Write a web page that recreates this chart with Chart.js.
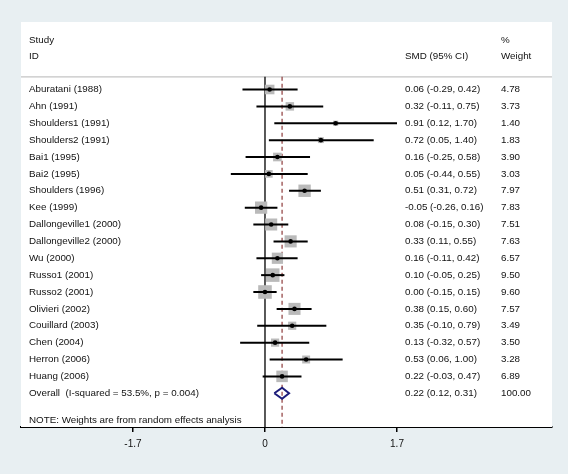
<!DOCTYPE html>
<html>
<head>
<meta charset="utf-8">
<script src="https://cdn.jsdelivr.net/npm/chart.js@4.4.1/dist/chart.umd.min.js"></script>
<style>
  html, body { margin: 0; padding: 0; background: #e8eff2; }
  #wrap { width: 568px; height: 474px; }
</style>
</head>
<body>
<div id="wrap"><canvas id="forest" width="568" height="474"></canvas></div>
<script>
// study data
const studies = ['Aburatani (1988)', 'Ahn (1991)', 'Shoulders1 (1991)', 'Shoulders2 (1991)',
  'Bai1 (1995)', 'Bai2 (1995)', 'Shoulders (1996)', 'Kee (1999)', 'Dallongeville1 (2000)',
  'Dallongeville2 (2000)', 'Wu (2000)', 'Russo1 (2001)', 'Russo2 (2001)', 'Olivieri (2002)',
  'Couillard (2003)', 'Chen (2004)', 'Herron (2006)', 'Huang (2006)'];
const smd = [0.06, 0.32, 0.91, 0.72, 0.16, 0.05, 0.51, -0.05, 0.08, 0.33, 0.16, 0.10, 0.00, 0.38, 0.35, 0.13, 0.53, 0.22];
const lower = [-0.29, -0.11, 0.12, 0.05, -0.25, -0.44, 0.31, -0.26, -0.15, 0.11, -0.11, -0.05, -0.15, 0.15, -0.10, -0.32, 0.06, -0.03];
const upper = [0.42, 0.75, 1.70, 1.40, 0.58, 0.55, 0.72, 0.16, 0.30, 0.55, 0.42, 0.25, 0.15, 0.60, 0.79, 0.57, 1.00, 0.47];
const weights = [4.78, 3.73, 1.40, 1.83, 3.90, 3.03, 7.97, 7.83, 7.51, 7.63, 6.57, 9.50, 9.60, 7.57, 3.49, 3.50, 3.28, 6.89];
const overall = [0.22, 0.12, 0.31];   // estimate, lower, upper
const overallWeight = 100.00;
const overallLabel = 'Overall  (I-squared = 53.5%, p = 0.004)';
const noteText = 'NOTE: Weights are from random effects analysis';
const xTicks = [-1.7, 0, 1.7];

const FONT = '9.8px "Liberation Sans", Arial, sans-serif';
const TXT = '#111';
const nRows = studies.length;
const fmt = (v) => v.toFixed(2);

const datasets = [];

// reference lines (null line and overall estimate)
datasets.push({
  data: [{x: 0, y: -0.75}, {x: 0, y: 20}],
  showLine: true, pointRadius: 0, borderColor: '#222', borderWidth: 1.5, order: 6
});
datasets.push({
  data: [{x: overall[0], y: -0.75}, {x: overall[0], y: 20}],
  showLine: true, pointRadius: 0, borderColor: '#8e3b3b', borderWidth: 1.2,
  borderDash: [4, 3], order: 5
});

// weight boxes
datasets.push({
  data: smd.map((v, i) => ({x: v, y: i})),
  pointStyle: 'rect',
  pointRadius: weights.map(w => 3.1 * Math.sqrt(w)),
  backgroundColor: '#bababa', borderWidth: 0, order: 4
});

// confidence intervals
studies.forEach((s, i) => {
  datasets.push({
    data: [{x: lower[i], y: i}, {x: upper[i], y: i}],
    showLine: true, pointRadius: 0, borderColor: '#000', borderWidth: 2, order: 3
  });
});

// point estimates
datasets.push({
  data: smd.map((v, i) => ({x: v, y: i})),
  pointRadius: 2.3, backgroundColor: '#000', borderWidth: 0, order: 2
});

// overall diamond
const oy = nRows;
datasets.push({
  data: [{x: overall[1], y: oy}, {x: overall[0], y: oy - 0.33}, {x: overall[2], y: oy},
         {x: overall[0], y: oy + 0.33}, {x: overall[1], y: oy}],
  showLine: true, pointRadius: 0, borderColor: '#1c1c7a', borderWidth: 2, order: 1
});

const textPlugin = {
  id: 'forestText',
  beforeDatasetsDraw(chart) {
    const {ctx, chartArea: a, scales: {y}} = chart;
    ctx.save();
    ctx.fillStyle = '#fff';
    ctx.fillRect(a.left, a.top, a.right - a.left, a.bottom - a.top);
    // header separator
    ctx.strokeStyle = '#c4c4c4';
    ctx.lineWidth = 1.2;
    ctx.beginPath();
    ctx.moveTo(a.left, y.getPixelForValue(-0.75));
    ctx.lineTo(a.right, y.getPixelForValue(-0.75));
    ctx.stroke();
    ctx.restore();
  },
  afterDatasetsDraw(chart) {
    const {ctx, chartArea: a, scales: {y}} = chart;
    const xl = a.left + 8, xs = a.right - 147, xw = a.right - 51;
    ctx.save();
    ctx.font = FONT;
    ctx.fillStyle = TXT;
    ctx.textBaseline = 'middle';
    ctx.textAlign = 'left';
    ctx.fillText('Study', xl, y.getPixelForValue(-2.9));
    ctx.fillText('ID', xl, y.getPixelForValue(-1.95));
    ctx.fillText('SMD (95% CI)', xs, y.getPixelForValue(-1.95));
    ctx.fillText('%', xw, y.getPixelForValue(-2.9));
    ctx.fillText('Weight', xw, y.getPixelForValue(-1.95));
    studies.forEach((s, i) => {
      const py = y.getPixelForValue(i);
      ctx.fillText(s, xl, py);
      ctx.fillText(fmt(smd[i]) + ' (' + fmt(lower[i]) + ', ' + fmt(upper[i]) + ')', xs, py);
      ctx.fillText(fmt(weights[i]), xw, py);
    });
    const py = y.getPixelForValue(oy);
    ctx.fillText(overallLabel, xl, py);
    ctx.fillText(fmt(overall[0]) + ' (' + fmt(overall[1]) + ', ' + fmt(overall[2]) + ')', xs, py);
    ctx.fillText(fmt(overallWeight), xw, py);
    ctx.fillText(noteText, xl, y.getPixelForValue(19.58));
    ctx.restore();
  }
};

new Chart(document.getElementById('forest'), {
  type: 'scatter',
  data: {datasets},
  options: {
    responsive: false,
    animation: false,
    layout: {padding: {left: 21, right: 16, top: 22, bottom: 0}},
    plugins: {legend: {display: false}, tooltip: {enabled: false}},
    scales: {
      x: {
        type: 'linear', min: -3.142, max: 3.696,
        afterBuildTicks: (scale) => { scale.ticks = xTicks.map(v => ({value: v})); },
        afterFit: (scale) => { scale.height = 47; },
        grid: {drawOnChartArea: false, drawTicks: true, tickLength: 5, color: '#000', lineWidth: 1.5},
        border: {display: true, color: '#000', width: 2},
        ticks: {
          color: TXT, padding: 6, maxRotation: 0,
          font: {family: '"Liberation Sans", Arial, sans-serif', size: 10},
          callback: (v) => String(v)
        }
      },
      y: {
        type: 'linear', min: -4, max: 20, reverse: true, display: false
      }
    }
  },
  plugins: [textPlugin]
});
</script>
</body>
</html>
